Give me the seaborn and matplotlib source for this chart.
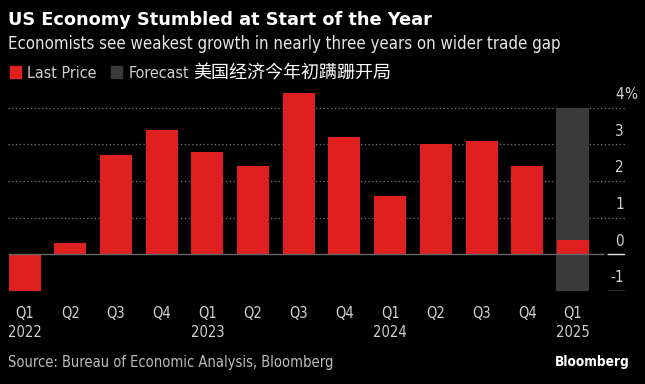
import pandas as pd
import matplotlib.pyplot as plt
import matplotlib.transforms as mtransforms
from matplotlib.patches import Patch
import seaborn as sns

sns.set_theme(style='dark')
plt.rcParams['font.family'] = ['DejaVu Sans', 'Noto Sans CJK SC']
plt.rcParams['font.stretch'] = 'condensed'

# data (annualized GDP growth, %)
quarters = ['Q1', 'Q2', 'Q3', 'Q4', 'Q1', 'Q2', 'Q3', 'Q4', 'Q1', 'Q2', 'Q3', 'Q4', 'Q1']
years = ['2022', '', '', '', '2023', '', '', '', '2024', '', '', '', '2025']
growth = [-1.0, 0.3, 2.7, 3.4, 2.8, 2.4, 4.4, 3.2, 1.6, 3.0, 3.1, 2.4, 0.4]
forecast_idx = 12
ytick_vals = [-1, 0, 1, 2, 3, 4]
ytick_txt = ['-1', '0', '1', '2', '3', '4']

bg = '#000000'
red = '#e0201f'
grey_bar = '#3a3a3a'
txt = '#d0d0d0'

labels = [f'{q}\n{y}' if y else q for q, y in zip(quarters, years)]
df = pd.DataFrame({'idx': range(len(growth)), 'growth': growth})

fig = plt.figure(figsize=(6.45, 3.84), dpi=100, facecolor=bg)
ax = fig.add_axes([8 / 645, 93 / 384, 617 / 645, 198 / 384])
ax.set_facecolor(bg)

# forecast band behind the last bar
ax.bar(forecast_idx, ytick_vals[-1] - ytick_vals[0], bottom=ytick_vals[0],
       width=0.72, color=grey_bar, lw=0, zorder=1)

# dotted gridlines
for v in ytick_vals[2:]:
    ax.axhline(v, color='#777777', lw=0.9, ls=(0, (1, 2)), zorder=0)

sns.barplot(data=df, x='idx', y='growth', color=red, width=0.7,
            saturation=1, ax=ax, zorder=2, native_scale=True, linewidth=0)

ax.set_xlim(-0.365, 13.14)
ax.set_ylim(-1, 4.4)
ax.hlines(0, -0.365, 12.68, color='#666666', lw=1, zorder=3)
ax.hlines([0, -1], 12.75, 13.14, color='#e0e0e0', lw=1, zorder=3)

for s in ax.spines.values():
    s.set_visible(False)
ax.grid(False)

ax.set_xticks(range(len(labels)))
ax.set_xticklabels(labels, color=txt, fontsize=10.5, linespacing=1.3)
ax.tick_params(axis='x', length=5, width=1, color='#bbbbbb', direction='out', pad=6)
ax.set_xlabel('')
ax.set_ylabel('')
ax.set_yticks([])

# right-side value labels sitting just above each line
off = mtransforms.ScaledTranslation(0, 4 / 72, fig.dpi_scale_trans)
trans = mtransforms.blended_transform_factory(ax.transAxes, ax.transData) + off
for v, t in zip(ytick_vals, ytick_txt):
    ax.text(0.9985, v, t, transform=trans, ha='right', va='bottom',
            color=txt, fontsize=11, clip_on=False)
ax.text(0.9985, ytick_vals[-1], '%', transform=trans, ha='left', va='bottom',
        color=txt, fontsize=11, clip_on=False)

fig.text(8 / 645, 1 - 20 / 384, 'US Economy Stumbled at Start of the Year',
         color='white', fontsize=12.8, fontweight='bold', fontstretch='normal',
         va='center')
fig.text(8 / 645, 1 - 44 / 384,
         'Economists see weakest growth in nearly three years on wider trade gap',
         color='#e6e6e6', fontsize=12.1, va='center')

handles = [Patch(color=red, label='Last Price'), Patch(color=grey_bar, label='Forecast')]
fig.legend(handles=handles, loc='center left', bbox_to_anchor=(0.0, 1 - 73 / 384),
           ncol=2, frameon=False, fontsize=11.5, labelcolor=txt,
           handlelength=0.7, handleheight=0.7, handletextpad=0.4, columnspacing=0.9,
           borderaxespad=0.2)
fig.text(193 / 645, 1 - 73 / 384, '美国经济今年初蹒跚开局', color='white',
         fontsize=13, va='center', family=['Noto Sans CJK SC', 'DejaVu Sans'])

fig.text(8 / 645, 1 - 362 / 384, 'Source: Bureau of Economic Analysis, Bloomberg',
         color='#bbbbbb', fontsize=10.5, va='center')
fig.text(630 / 645, 1 - 362 / 384, 'Bloomberg', color='white', fontsize=9.8,
         fontweight='bold', ha='right', va='center')

fig.savefig('out.png', dpi=100, facecolor=bg)
